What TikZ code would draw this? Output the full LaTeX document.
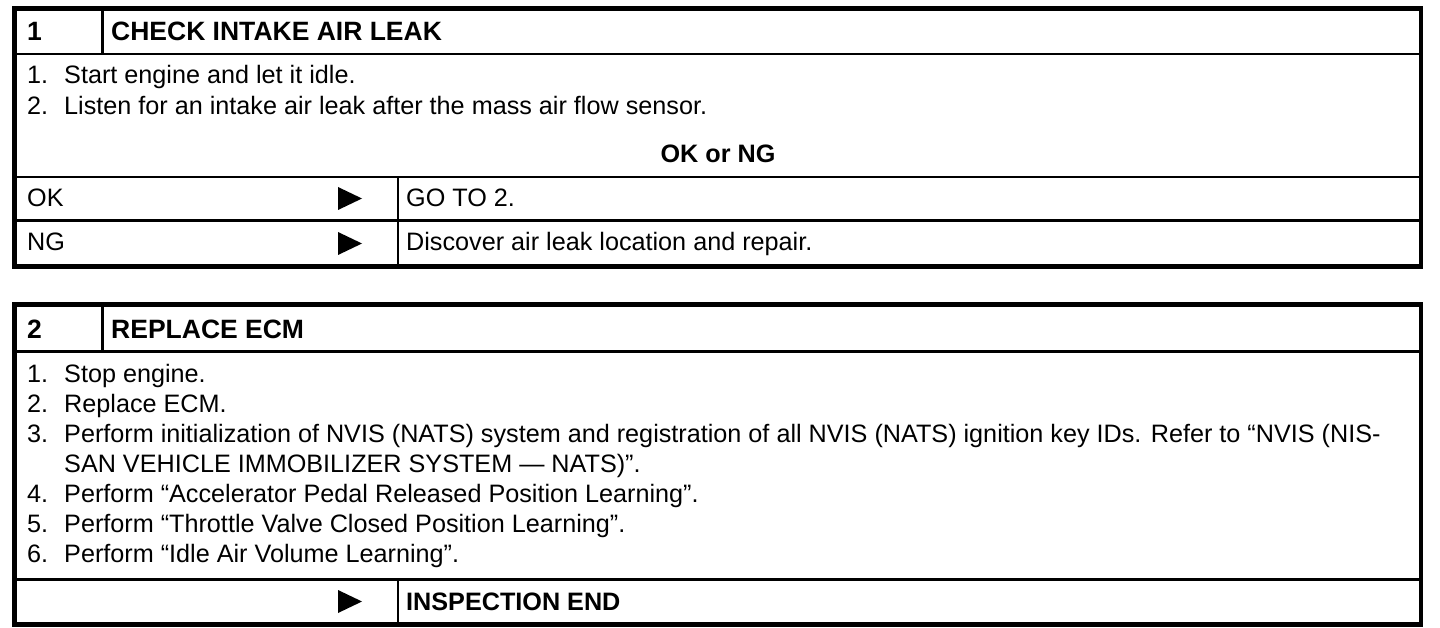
\documentclass[tikz,border=0pt]{standalone}
\usepackage{fontspec}
\setmainfont{Liberation Sans}
\begin{document}
\begin{tikzpicture}[x=1pt,y=-1pt,
  outerframe/.style={line width=4.5pt},
  innerline/.style={line width=2.8pt},
  txt/.style={anchor=base west,inner sep=0pt,font=\fontsize{25.2}{30}\selectfont},
  btxt/.style={txt,font=\fontsize{25.2}{30}\selectfont\bfseries},
  htxt/.style={txt,font=\fontsize{26.5}{30}\selectfont\bfseries},
  tri/.style={fill=black}]
\useasboundingbox (0,0) rectangle (1440,628);
% ---------- box 1 ----------
\draw[innerline] (14.5,54) -- (1421,54);
\draw[innerline] (102.5,8.5) -- (102.5,54);
\draw[innerline] (14.5,177) -- (1421,177);
\draw[innerline] (14.5,220.5) -- (1421,220.5);
\draw[innerline] (398,177) -- (398,266.5);
\draw[outerframe] (14.5,8.5) rectangle (1421,266.5);
\node[htxt] (n1) at (27,41) {1};
\node[htxt] (h1) at (111,41) {CHECK INTAKE AIR LEAK};
\node[txt] (a1) at (27,84) {1.};
\node[txt] (a1t) at (64,84) {Start engine and let it idle.};
\node[txt] (a2) at (27,115) {2.};
\node[txt] (a2t) at (64,115) {Listen for an intake air leak after the mass air flow sensor.};
\node[btxt,anchor=base] (okng) at (718,163) {OK or NG};
\node[txt] (ok) at (27,207) {OK};
\node[txt] (okr) at (406,207) {GO TO 2.};
\node[txt] (ng) at (27,251) {NG};
\node[txt] (ngr) at (406,251) {Discover air leak location and repair.};
\fill[tri] (338,187) -- (362,198.5) -- (338,210) -- cycle;
\fill[tri] (338,232) -- (362,243.5) -- (338,255) -- cycle;
% ---------- box 2 ----------
\draw[innerline] (14.5,351.5) -- (1421,351.5);
\draw[innerline] (102.5,304.5) -- (102.5,351.5);
\draw[innerline] (14.5,579.5) -- (1421,579.5);
\draw[innerline] (398,579.5) -- (398,624.5);
\draw[outerframe] (14.5,304.5) rectangle (1421,624.5);
\node[htxt] (n2) at (27,338) {2};
\node[htxt] (h2) at (111,338) {REPLACE ECM};
\node[txt] (b1) at (27,382) {1.};
\node[txt] (b1t) at (64,382) {Stop engine.};
\node[txt] (b2) at (27,412) {2.};
\node[txt] (b2t) at (64,412) {Replace ECM.};
\node[txt] (b3) at (27,442) {3.};
\node[txt] (b3t) at (64,442) {Perform initialization of NVIS (NATS) system and registration of all NVIS (NATS) ignition key IDs. Refer to “NVIS (NIS-};
\node[txt] (b3u) at (64,472) {SAN VEHICLE IMMOBILIZER SYSTEM — NATS)”.};
\node[txt] (b4) at (27,502) {4.};
\node[txt] (b4t) at (64,502) {Perform “Accelerator Pedal Released Position Learning”.};
\node[txt] (b5) at (27,532) {5.};
\node[txt] (b5t) at (64,532) {Perform “Throttle Valve Closed Position Learning”.};
\node[txt] (b6) at (27,562) {6.};
\node[txt] (b6t) at (64,562) {Perform “Idle Air Volume Learning”.};
\node[btxt] (endr) at (406,610) {INSPECTION END};
\fill[tri] (338,590) -- (362,601.5) -- (338,613) -- cycle;
\end{tikzpicture}
\end{document}
